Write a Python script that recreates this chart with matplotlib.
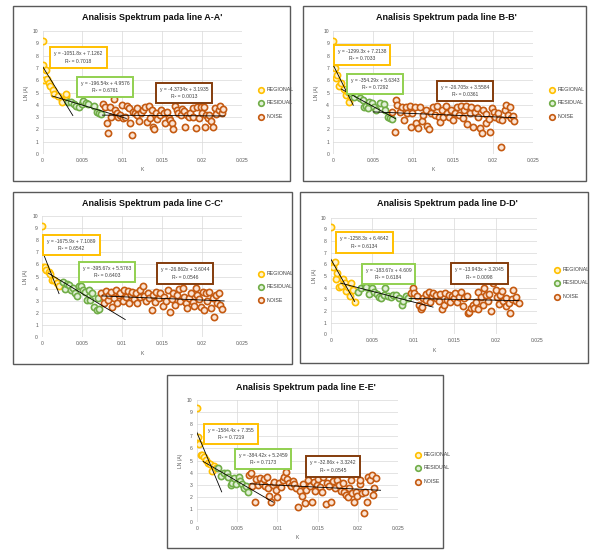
import matplotlib.pyplot as plt
from matplotlib.patches import Rectangle
import numpy as np

plt.rcParams['font.family'] = ['Liberation Sans', 'DejaVu Sans']

# ---- line A-A' ----
a_reg_k = [0, 0.0001, 0.0004, 0.0002, 0.0006, 0.0008, 0.001, 0.0013, 0.0015, 0.002, 0.0024, 0.0025, 0.0029, 0.003]
a_reg_ln = [9.2, 7.2, 6.8, 6.0, 6.1, 5.8, 5.5, 5.2, 4.9, 4.7, 4.4, 4.2, 4.7, 4.85]
a_res_k = [0.0032, 0.0036, 0.0039, 0.0042, 0.0046, 0.0049, 0.0051, 0.0054, 0.0057, 0.0065, 0.0068, 0.0071, 0.0073]
a_res_ln = [4.25, 4.2, 4.07, 3.9, 3.85, 4.04, 4.3, 4.12, 4.04, 3.9, 3.44, 3.36, 3.25]
a_noise_k = [0.0076, 0.0078, 0.0081, 0.0082, 0.0086, 0.0085, 0.0089, 0.0091, 0.0093, 0.0095,
             0.0097, 0.0099, 0.0101, 0.0103, 0.0106, 0.0108, 0.011, 0.0112, 0.0114, 0.0116,
             0.0118, 0.0119, 0.0121, 0.0124, 0.0126, 0.0129, 0.0131, 0.0133, 0.0135, 0.0137,
             0.0138, 0.014, 0.0142, 0.0144, 0.0147, 0.0148, 0.0152, 0.0154, 0.0156, 0.0158,
             0.016, 0.0162, 0.0163, 0.0166, 0.0168, 0.017, 0.0173, 0.0175, 0.0177, 0.0179,
             0.0181, 0.0183, 0.0185, 0.0188, 0.0189, 0.0192, 0.0193, 0.0196, 0.0198, 0.02,
             0.0202, 0.0204, 0.0205, 0.0207, 0.0209, 0.0211, 0.0214, 0.0216, 0.0218, 0.0221,
             0.0223, 0.0225, 0.0226]
a_noise_ln = [4.04, 3.8, 2.5, 1.73, 3.04, 3.85, 4.44, 3.58, 3.3, 3.03,
              3.17, 3.98, 2.9, 3.03, 3.9, 3.7, 2.55, 1.55, 3.44, 3.3,
              3.7, 3.17, 2.7, 3.3, 3.58, 3.85, 2.6, 3.9, 2.9, 3.58,
              2.22, 2.06, 3.36, 2.87, 3.17, 3.58, 3.3, 2.55, 3.4, 2.9,
              2.76, 2.5, 2.0, 3.9, 3.58, 3.36, 3.17, 3.63, 3.52, 2.17,
              3.17, 2.98, 3.3, 3.03, 3.7, 2.1, 3.8, 2.9, 3.85, 3.36,
              3.8, 2.22, 3.17, 2.9, 3.17, 2.68, 2.17, 3.7, 3.25, 3.58,
              3.9, 3.3, 3.63]
a_fits = [(-1051.8, 7.1262, 0.7018), (-196.54, 4.9576, 0.6761), (-4.3734, 3.1935, 0.0013)]
a_fit_span = [(0, 0.0038), (0.0012, 0.0105), (0.0075, 0.0228)]

# ---- line B-B' ----
b_reg_k = [0, 0.0002, 0.0003, 0.0005, 0.0007, 0.001, 0.0014, 0.0016, 0.0018, 0.002, 0.0022]
b_reg_ln = [9.19, 6.96, 6.2, 6.42, 5.56, 5.75, 5.26, 4.8, 5.07, 4.25, 4.6]
b_res_k = [0.0022, 0.0026, 0.003, 0.0033, 0.0037, 0.0039, 0.0041, 0.0043, 0.0045, 0.0048,
           0.0051, 0.0054, 0.0059, 0.0063, 0.0065, 0.0068, 0.0071, 0.0074]
b_res_ln = [4.93, 4.66, 4.85, 4.52, 4.4, 3.8, 3.9, 3.7, 4.25, 4.17,
            3.8, 3.58, 4.12, 4.07, 3.58, 2.98, 2.9, 2.87]
b_noise_k = [0.0074, 0.0077, 0.0079, 0.008, 0.0083, 0.0086, 0.0088, 0.0091, 0.0093, 0.0096,
             0.0097, 0.0099, 0.0102, 0.0104, 0.0106, 0.0109, 0.0111, 0.0113, 0.0116, 0.0118,
             0.012, 0.0122, 0.0125, 0.0127, 0.013, 0.0132, 0.0134, 0.0136, 0.0138, 0.0141,
             0.0143, 0.0145, 0.0148, 0.015, 0.0153, 0.0155, 0.0157, 0.016, 0.0162, 0.0164,
             0.0166, 0.0168, 0.0171, 0.0173, 0.0175, 0.0178, 0.018, 0.0182, 0.0184, 0.0186,
             0.0188, 0.0191, 0.0192, 0.0195, 0.0196, 0.0199, 0.0201, 0.0203, 0.0206, 0.0208,
             0.021, 0.0212, 0.0215, 0.0217, 0.0219, 0.0222, 0.0223, 0.0225, 0.0227]
b_noise_ln = [3.44, 1.82, 4.4, 4.0, 3.44, 3.8, 2.76, 3.8, 3.36, 3.9,
              2.17, 3.3, 3.8, 2.5, 2.09, 3.8, 2.71, 3.17, 3.58, 2.28,
              2.0, 3.36, 3.8, 3.17, 3.9, 2.98, 2.63, 3.58, 3.03, 3.9,
              3.3, 2.98, 3.58, 2.76, 3.36, 3.8, 3.17, 3.9, 2.9, 3.58,
              3.9, 2.44, 3.3, 3.8, 2.22, 3.44, 3.7, 3.03, 2.09, 1.73,
              3.58, 3.25, 2.5, 2.82, 1.82, 3.7, 3.44, 3.03, 3.36, 2.82,
              0.54, 2.76, 3.58, 4.0, 3.17, 3.8, 2.9, 3.1, 2.71]
b_fits = [(-1299.3, 7.2138, 0.7033), (-354.29, 5.6343, 0.7292), (-26.705, 3.5584, 0.0361)]
b_fit_span = [(0, 0.0025), (0.001, 0.0078), (0.005, 0.0228)]

# ---- line C-C' ----
c_reg_k = [0, 0.0001, 0.0003, 0.0005, 0.0008, 0.001, 0.0012, 0.0015, 0.0018, 0.0021]
c_reg_ln = [9.18, 5.81, 5.75, 5.53, 5.4, 5.18, 4.71, 4.71, 4.44, 4.22]
c_res_k = [0.0026, 0.0028, 0.0031, 0.0033, 0.0036, 0.0039, 0.0041, 0.0044, 0.0046, 0.0048,
           0.0051, 0.0054, 0.0056, 0.0058, 0.006, 0.0062, 0.0065, 0.0068, 0.007, 0.0071]
c_res_ln = [4.58, 3.95, 4.38, 4.3, 3.89, 4.03, 3.62, 3.4, 4.22, 4.22,
            3.89, 3.73, 3.07, 3.89, 3.07, 3.67, 2.52, 2.25, 3.2, 2.3]
c_noise_k = [0.0074, 0.0077, 0.0077, 0.008, 0.0082, 0.0084, 0.0086, 0.0088, 0.009, 0.0092,
             0.0094, 0.0096, 0.0098, 0.0101, 0.0102, 0.0105, 0.0107, 0.0109, 0.0111, 0.0113,
             0.0115, 0.0117, 0.0119, 0.0122, 0.0123, 0.0126, 0.0128, 0.013, 0.0132, 0.0134,
             0.0137, 0.0139, 0.0141, 0.0143, 0.0146, 0.0148, 0.0151, 0.0153, 0.0155, 0.0158,
             0.016, 0.0163, 0.0164, 0.0167, 0.0169, 0.0171, 0.0173, 0.0176, 0.0178, 0.018,
             0.0182, 0.0184, 0.0186, 0.0189, 0.019, 0.0193, 0.0194, 0.0197, 0.0199, 0.0201,
             0.0203, 0.0205, 0.0207, 0.0209, 0.0211, 0.0214, 0.0215, 0.0218, 0.0219, 0.0221,
             0.0223, 0.0225]
c_noise_ln = [3.67, 3.34, 2.79, 3.84, 3.07, 3.48, 3.75, 2.47, 3.2, 3.89,
              2.85, 3.48, 3.67, 3.01, 3.89, 3.34, 3.84, 2.85, 3.48, 3.75,
              3.12, 3.62, 2.79, 3.29, 3.89, 4.22, 3.4, 3.01, 3.62, 3.2,
              2.25, 3.48, 2.93, 3.75, 3.2, 3.62, 2.58, 3.34, 3.01, 3.89,
              2.11, 3.12, 3.62, 2.66, 3.48, 3.95, 3.01, 4.03, 3.34, 2.85,
              2.38, 3.2, 3.62, 2.93, 2.58, 4.03, 3.48, 3.12, 2.47, 3.75,
              2.25, 3.62, 3.01, 3.75, 2.38, 3.2, 1.7, 3.48, 2.85, 3.67,
              2.66, 2.3]
c_fits = [(-1675.9, 7.1089, 0.6542), (-395.67, 5.5763, 0.6403), (-26.862, 3.6044, 0.0546)]
c_fit_span = [(0, 0.0021), (0.0008, 0.0104), (0.0075, 0.0228)]

# ---- line D-D' ----
d_reg_k = [0, 0.0002, 0.0003, 0.0005, 0.0007, 0.0008, 0.001, 0.0013, 0.0015, 0.0017,
           0.0019, 0.0021, 0.0023, 0.0025, 0.0027, 0.0029]
d_reg_ln = [9.23, 5.86, 5.74, 6.2, 4.71, 5.29, 4.09, 4.14, 4.71, 4.43,
            3.74, 4.03, 3.29, 4.43, 3.8, 2.8]
d_res_k = [0.0033, 0.0037, 0.0041, 0.0043, 0.0046, 0.005, 0.0053, 0.0056, 0.0059, 0.0061,
           0.0064, 0.0066, 0.0069, 0.0073, 0.0076, 0.0079, 0.0083, 0.0086, 0.0088, 0.0091, 0.0094]
d_res_ln = [3.66, 3.94, 4.14, 4.03, 3.46, 3.94, 3.66, 3.46, 3.23, 3.09,
            3.37, 3.94, 3.29, 3.23, 3.37, 3.37, 3.09, 2.51, 2.89, 3.29, 3.09]
d_noise_k = [0.0097, 0.01, 0.0101, 0.0104, 0.0107, 0.0109, 0.0111, 0.0112, 0.0115, 0.0116,
             0.0119, 0.012, 0.0123, 0.0124, 0.0127, 0.0128, 0.0131, 0.0132, 0.0135, 0.0137,
             0.0139, 0.0141, 0.0143, 0.0145, 0.0147, 0.0149, 0.0151, 0.0153, 0.0155, 0.0158,
             0.016, 0.0162, 0.0165, 0.0166, 0.0168, 0.017, 0.0172, 0.0174, 0.0176, 0.0178,
             0.0179, 0.0182, 0.0184, 0.0186, 0.0188, 0.019, 0.0192, 0.0194, 0.0197, 0.02,
             0.0201, 0.0204, 0.0205, 0.0208, 0.0209, 0.0212, 0.0213, 0.0216, 0.0217, 0.022,
             0.0221, 0.0224, 0.0225, 0.0228]
d_noise_ln = [3.51, 3.94, 3.51, 3.29, 2.51, 2.14, 2.37, 3.09, 2.94, 3.46,
              3.66, 2.8, 3.29, 3.57, 3.09, 3.37, 2.89, 3.46, 2.14, 2.51,
              3.57, 2.94, 3.37, 2.8, 3.29, 3.09, 3.57, 2.8, 3.23, 3.66,
              2.43, 3.09, 3.29, 1.8, 1.94, 2.23, 2.51, 2.23, 2.8, 2.14,
              3.66, 3.17, 2.51, 3.94, 3.37, 2.89, 3.46, 2.03, 4.43, 3.8,
              3.23, 2.6, 3.37, 3.74, 2.89, 2.43, 3.09, 2.71, 1.86, 3.0,
              3.8, 2.89, 3.17, 2.71]
d_fits = [(-1258.3, 6.4642, 0.6134), (-183.67, 4.609, 0.6184), (-13.943, 3.2045, 0.0098)]
d_fit_span = [(0, 0.0029), (0.0012, 0.0124), (0.0095, 0.0228)]

# ---- line E-E' ----
e_reg_k = [0, 0.0001, 0.0003, 0.0005, 0.0007, 0.0009, 0.0012, 0.0014, 0.0017, 0.0019, 0.0021, 0.0024]
e_reg_ln = [9.34, 6.97, 6.34, 5.44, 5.46, 5.33, 5.05, 4.78, 4.73, 4.18, 4.56, 4.37]
e_res_k = [0.0027, 0.003, 0.0034, 0.0037, 0.0039, 0.0042, 0.0044, 0.0046, 0.0049, 0.0052,
           0.0054, 0.0056, 0.0059, 0.0061, 0.0063]
e_res_ln = [4.37, 3.74, 3.96, 4.02, 3.69, 3.0, 3.2, 3.55, 3.09, 3.69,
            3.36, 3.09, 2.73, 2.92, 2.46]
e_noise_k = [0.0065, 0.0067, 0.0069, 0.0072, 0.0074, 0.0076, 0.0079, 0.0081, 0.0083, 0.0085,
             0.0087, 0.0089, 0.009, 0.0092, 0.0094, 0.0096, 0.0098, 0.01, 0.0102, 0.0104,
             0.0107, 0.0108, 0.0111, 0.0112, 0.0115, 0.0117, 0.0119, 0.0121, 0.0123, 0.0126,
             0.0128, 0.013, 0.0132, 0.0134, 0.0136, 0.0138, 0.014, 0.0143, 0.0145, 0.0147,
             0.0149, 0.0151, 0.0153, 0.0155, 0.0157, 0.016, 0.0162, 0.0164, 0.0167, 0.0169,
             0.0172, 0.0174, 0.0176, 0.0179, 0.0181, 0.0183, 0.0185, 0.0187, 0.0189, 0.0191,
             0.0193, 0.0195, 0.0198, 0.0199, 0.0202, 0.0203, 0.0205, 0.0207, 0.0209, 0.0211,
             0.0213, 0.0215, 0.0217, 0.0218, 0.022, 0.0222]
e_noise_ln = [3.83, 3.96, 2.92, 1.64, 3.52, 3.0, 3.6, 3.2, 3.52, 2.92,
              3.69, 2.73, 2.1, 1.64, 3.0, 3.28, 2.6, 2.0, 3.2, 2.81,
              3.44, 3.63, 4.1, 3.52, 3.2, 2.92, 3.36, 3.09, 2.73, 1.23,
              2.54, 2.1, 3.09, 1.56, 2.6, 3.44, 2.92, 1.64, 3.28, 2.54,
              3.0, 3.52, 2.81, 2.46, 3.63, 1.45, 3.2, 2.92, 1.64, 3.36,
              2.73, 3.44, 3.0, 2.54, 3.2, 2.46, 2.19, 2.05, 2.73, 3.44,
              2.32, 1.64, 2.46, 2.1, 3.09, 3.44, 2.32, 0.74, 2.46, 1.64,
              3.63, 3.44, 3.83, 2.19, 2.73, 3.55]
e_fits = [(-1584.4, 7.355, 0.7219), (-384.42, 5.2459, 0.7173), (-32.86, 3.3242, 0.0545)]
e_fit_span = [(0, 0.0031), (0.0008, 0.0095), (0.0066, 0.0228)]

series_names = ['REGIONAL', 'RESIDUAL', 'NOISE']
edge_cols = ['#FFC000', '#70AD47', '#C55A11']
face_cols = ['#FFF2CC', '#E2F0D9', '#FBE5D6']
box_cols = ['#FFC000', '#92D050', '#843C0C']

x_ticks = [0, 0.005, 0.01, 0.015, 0.02, 0.025]
x_ticklabels = ['0', '0.005', '0.01', '0.015', '0.02', '0.025']

fig = plt.figure(figsize=(5.93, 5.5), dpi=100)


def px_box(x0, y0, x1, y1):
    # figure-pixel rectangle (top-left origin) -> figure fraction
    W, H = 593.0, 550.0
    return Rectangle((x0 / W, 1 - y1 / H), (x1 - x0) / W, (y1 - y0) / H,
                     transform=fig.transFigure, fill=False, ec='#595959', lw=1.0)


def draw_panel(rect, box, title, title_xy, pts, fits, spans, eq_pos, leg_anchor):
    fig.patches.append(px_box(*box))
    fig.text(title_xy[0] / 593, 1 - title_xy[1] / 550, title, ha='center', va='center',
             fontsize=6.5, fontweight='bold', color='#111111')
    ax = fig.add_axes(rect)
    for (k, ln), name, ec, fc in zip(pts, series_names, edge_cols, face_cols):
        ax.scatter(k, ln, s=20, facecolors=fc, edgecolors=ec, linewidths=1.2,
                   label=name, zorder=3)
    for (m, b, r2), (x0, x1), bc, (ex, ey) in zip(fits, spans, box_cols, eq_pos):
        xs = np.array([x0, x1])
        ax.plot(xs, m * xs + b, color='black', lw=0.6, zorder=4)
        txt = 'y = %sx + %s\nR² = %s' % (m, b, ('%.4f' % r2))
        ax.text(ex, ey, txt, transform=ax.transAxes, ha='center', va='center',
                fontsize=3.6, color='#404040', linespacing=1.6, zorder=6,
                bbox=dict(boxstyle='square,pad=0.8', fc='white', ec=bc, lw=1.4))
    ax.set_xlim(0, 0.025)
    ax.set_ylim(0, 10)
    ax.set_xticks(x_ticks)
    ax.set_xticklabels(x_ticklabels)
    ax.set_yticks(range(0, 11))
    ax.tick_params(length=0, labelsize=3.6, labelcolor='#595959', pad=3)
    ax.grid(True, color='#D9D9D9', lw=0.5)
    ax.set_axisbelow(True)
    for s in ax.spines.values():
        s.set_visible(False)
    ax.set_xlabel('K', fontsize=3.6, color='#595959', labelpad=3)
    ax.set_ylabel('LN (A)', fontsize=3.6, color='#595959', labelpad=3)
    ax.legend(loc='center left', bbox_to_anchor=leg_anchor, frameon=False, fontsize=3.8,
              handletextpad=0.05, labelspacing=1.6, borderaxespad=0, markerscale=0.9,
              labelcolor='#404040')
    return ax


draw_panel([0.0717, 0.72, 0.3364, 0.2236], (13, 6, 290, 181), "Analisis Spektrum pada line A-A'",
           (152, 17.5),
           [(a_reg_k, a_reg_ln), (a_res_k, a_res_ln), (a_noise_k, a_noise_ln)],
           a_fits, a_fit_span, [(0.181, 0.786), (0.313, 0.547), (0.708, 0.498)], (1.06, 0.415))
draw_panel([0.5621, 0.72, 0.3362, 0.2236], (303, 6, 586, 181), "Analisis Spektrum pada line B-B'",
           (446, 17.5),
           [(b_reg_k, b_reg_ln), (b_res_k, b_res_ln), (b_noise_k, b_noise_ln)],
           b_fits, b_fit_span, [(0.143, 0.805), (0.21, 0.567), (0.662, 0.511)], (1.06, 0.415))
draw_panel([0.0713, 0.3867, 0.3363, 0.2211], (13, 192, 292, 364), "Analisis Spektrum pada line C-C'",
           (152, 203.5),
           [(c_reg_k, c_reg_ln), (c_res_k, c_res_ln), (c_noise_k, c_noise_ln)],
           c_fits, c_fit_span, [(0.147, 0.757), (0.323, 0.539), (0.716, 0.526)], (1.06, 0.415))
draw_panel([0.5577, 0.3922, 0.3479, 0.212], (300, 192, 588, 363), "Analisis Spektrum pada line D-D'",
           (447, 203.5),
           [(d_reg_k, d_reg_ln), (d_res_k, d_res_ln), (d_noise_k, d_noise_ln)],
           d_fits, d_fit_span, [(0.163, 0.787), (0.28, 0.515), (0.722, 0.523)], (1.06, 0.44))
draw_panel([0.3317, 0.0515, 0.34, 0.2218], (167, 375, 443, 548), "Analisis Spektrum pada line E-E'",
           (306, 387.5),
           [(e_reg_k, e_reg_ln), (e_res_k, e_res_ln), (e_noise_k, e_noise_ln)],
           e_fits, e_fit_span, [(0.169, 0.721), (0.328, 0.516), (0.675, 0.451)], (1.06, 0.44))

fig.savefig('out.png', dpi=100)
